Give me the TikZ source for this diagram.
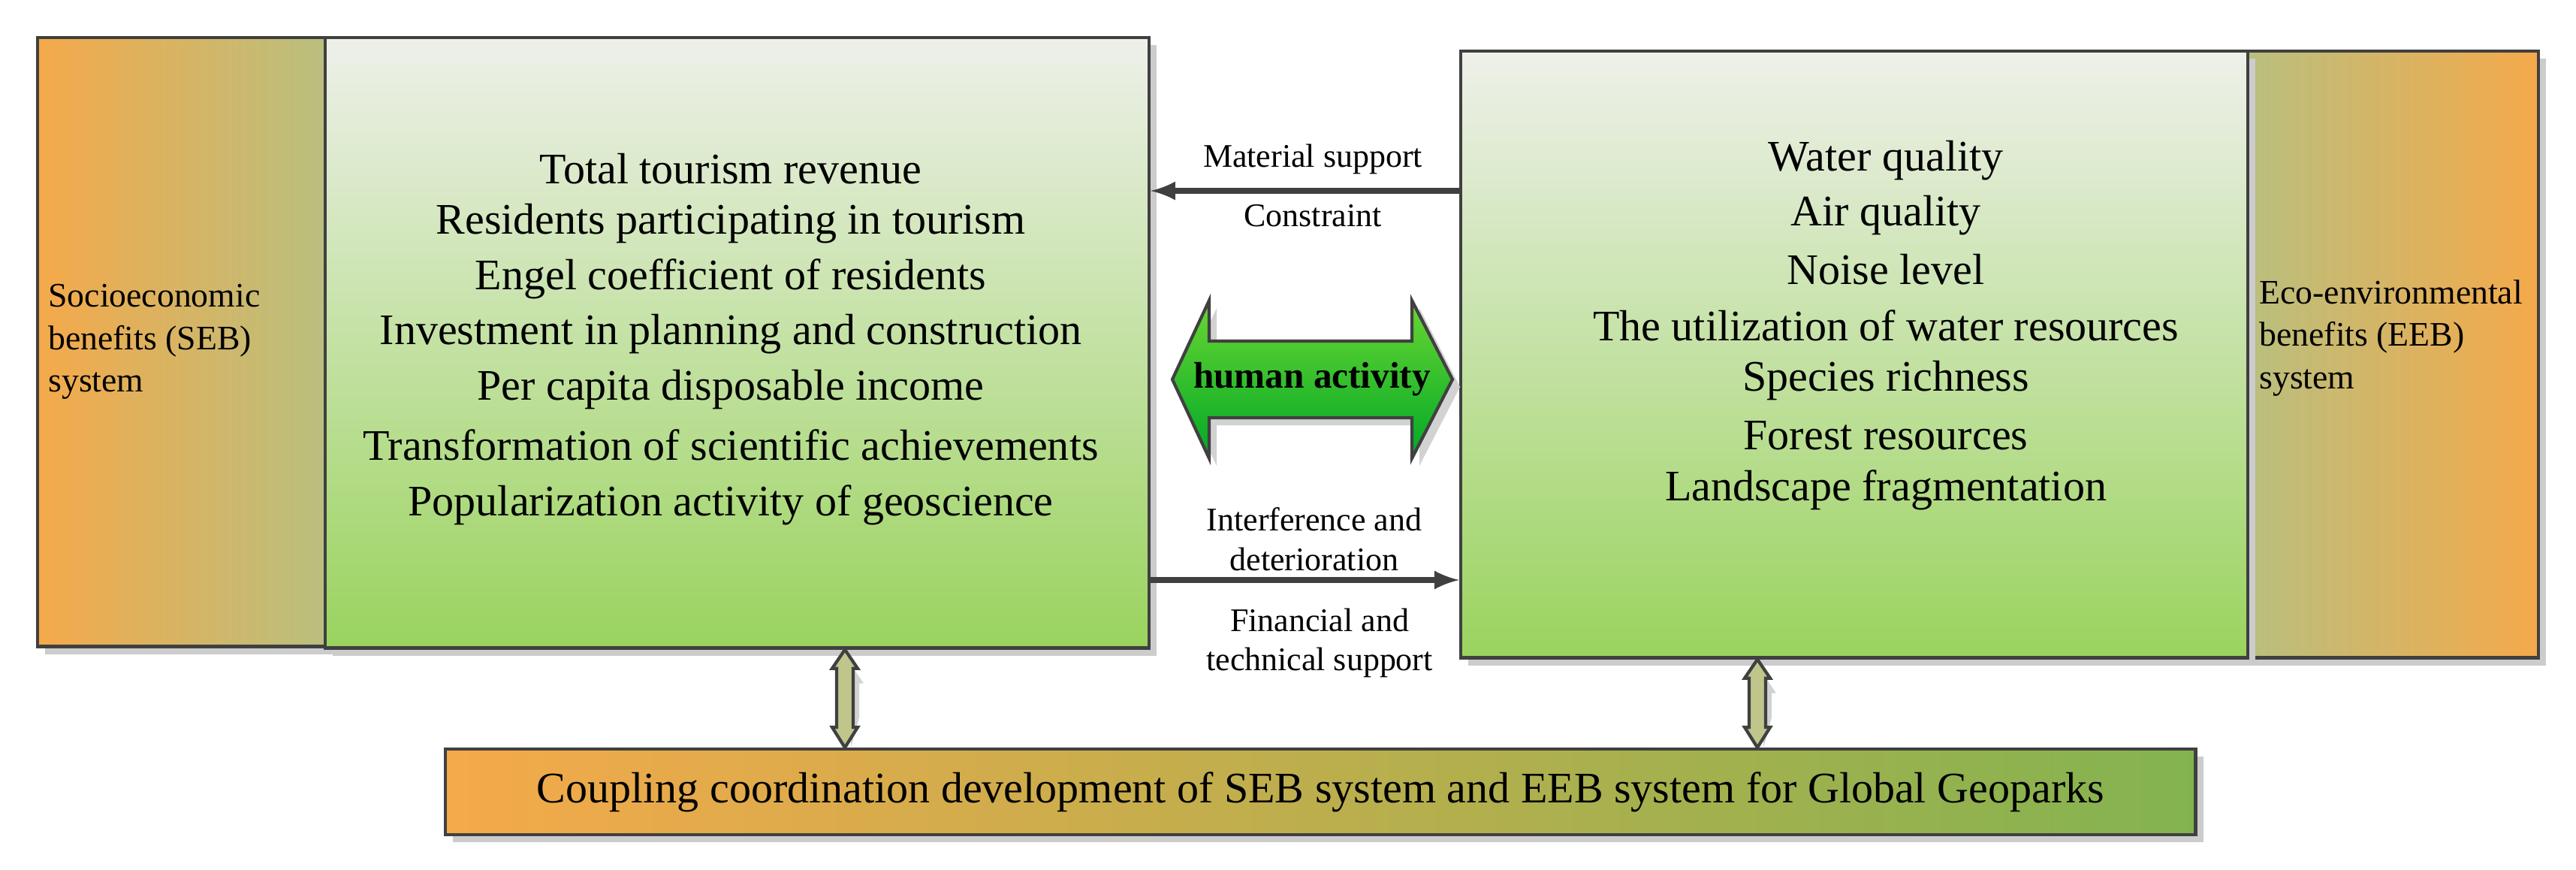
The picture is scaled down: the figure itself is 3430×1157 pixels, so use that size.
\documentclass[tikz,border=0pt]{standalone}
\usepackage{fontspec}
\setmainfont{Liberation Serif}
\usetikzlibrary{positioning,calc,shadows}
\definecolor{leaforange}{HTML}{F5A94A}
\definecolor{leafolive}{HTML}{B9BF7E}
\definecolor{leafgreen}{HTML}{9AD35E}
\definecolor{leafpale}{HTML}{EEF0EA}
\definecolor{edgegray}{HTML}{404040}
\begin{document}
\begin{tikzpicture}[x=0.01cm, y=-0.01cm,
    sysbox/.style={rectangle, draw=edgegray, line width=1.2pt, anchor=north west, inner sep=0pt,
        drop shadow={shadow xshift=0.1cm, shadow yshift=-0.1cm, fill=gray!40, opacity=1}},
    listbox/.style={sysbox, top color=leafpale, bottom color=leafgreen},
    sidebox/.style={sysbox, align=left, font=\fontsize{13}{16}\selectfont, text width=3.5cm},
    item/.style={font=\fontsize{16.5}{20}\selectfont},
    lab/.style={font=\fontsize{12.5}{15}\selectfont, align=center},
    arrow/.style={-latex, line width=2.2pt, draw=edgegray},
    link/.style={draw=edgegray, line width=1.2pt, fill=leafolive!90!white}
]
    \useasboundingbox (0,0) rectangle (3430,1157);

    % side boxes
    \node[sidebox, left color=leaforange, right color=leafolive, minimum width=3.83cm, minimum height=8.1cm] (seb) at (48,48) {};
    \node[anchor=west, align=left, font=\fontsize{13}{16}\selectfont] (sebtext) at (52,455) {Socioeconomic\\benefits (SEB)\\system};
    \node[sidebox, left color=leafolive, right color=leaforange, minimum width=3.88cm, minimum height=8.07cm] (eeb) at (2990,66) {};
    \node[anchor=west, align=left, font=\fontsize{13}{16}\selectfont] (eebtext) at (2996,450) {Eco-environmental\\benefits (EEB)\\system};

    % indicator boxes
    \node[listbox, minimum width=10.96cm, minimum height=8.12cm] (sebbox) at (431,48) {};
    \node[listbox, minimum width=10.47cm, minimum height=8.07cm] (eebbox) at (1943,66) {};

    % coupling box
    \node[sysbox, left color=leaforange, right color=leafgreen!85!black, minimum width=23.29cm, minimum height=1.14cm,
        font=\fontsize{16.5}{20}\selectfont] (couple) at (591,995) {};
    \node[font=\fontsize{16.5}{20}\selectfont] (coupletext) at (couple.center) {Coupling coordination development of SEB system and EEB system for Global Geoparks};

    % socioeconomic indicators
    \node[item] (s1) at (973,225) {Total tourism revenue};
    \node[item] (s2) at (973,298) {Residents participating in tourism};
    \node[item] (s3) at (973,371) {Engel coefficient of residents};
    \node[item] (s4) at (973,445) {Investment in planning and construction};
    \node[item] (s5) at (973,519) {Per capita disposable income};
    \node[item] (s6) at (973,592) {Transformation of scientific achievements};
    \node[item] (s7) at (973,672) {Popularization activity of geoscience};

    % eco-environmental indicators
    \node[item] (e1) at (2511,214) {Water quality};
    \node[item] (e2) at (2511,287) {Air quality};
    \node[item] (e3) at (2511,359) {Noise level};
    \node[item] (e4) at (2511,433) {The utilization of water resources};
    \node[item] (e5) at (2511,507) {Species richness};
    \node[item] (e6) at (2511,580) {Forest resources};
    \node[item] (e7) at (2511,652) {Landscape fragmentation};

    % interactions
    \coordinate (mR) at (eebbox.west |- 0,254);
    \coordinate (mL) at (sebbox.east |- 0,254);
    \draw[arrow] (mR) -- (mL);
    \node[lab] (material) at (1748,212) {Material support};
    \node[lab] (constraint) at (1748,287) {Constraint};

    \coordinate (iL) at (sebbox.east |- 0,772);
    \coordinate (iR) at (eebbox.west |- 0,772);
    \draw[arrow] (iL) -- (iR);
    \node[lab] (interfere) at (1750,718) {Interference and\\deterioration};
    \node[lab] (support) at (1757,856) {Financial and\\technical support};

    % human activity
    \fill[gray!35] (1571,515) -- (1620,410) -- (1620,464) -- (1890,464) -- (1890,410) -- (1944,515)
        -- (1890,620) -- (1890,566) -- (1620,566) -- (1620,620) -- cycle;
    \draw[draw=edgegray, line width=1.2pt, top color=green!55!lime!80!black!80, bottom color=green!60!black!85!cyan]
        (1561,505) -- (1610,400) -- (1610,454) -- (1880,454) -- (1880,400) -- (1934,505)
        -- (1880,610) -- (1880,556) -- (1610,556) -- (1610,610) -- cycle;
    \node[font=\bfseries\fontsize{14}{16}\selectfont] (human) at (1747,505) {human activity};

    % links to coupling box
    \foreach \src/\x in {sebbox/1125, eebbox/2340} {
        \coordinate (top) at (\x,0 |- \src.south);
        \coordinate (bot) at (\x,0 |- couple.north);
        \fill[gray!35] ($(top)+(8,20)$) -- ($(top)+(25,45)$) -- ($(top)+(19,45)$) -- ($(bot)+(19,-40)$)
            -- ($(bot)+(8,0)$) -- cycle;
        \draw[link] (top) -- ($(top)+(17,25)$) -- ($(top)+(11,25)$) -- ($(bot)+(11,-27)$) -- ($(bot)+(17,-27)$)
            -- (bot) -- ($(bot)+(-17,-27)$) -- ($(bot)+(-11,-27)$) -- ($(top)+(-11,25)$) -- ($(top)+(-17,25)$) -- cycle;
    }
\end{tikzpicture}
\end{document}
